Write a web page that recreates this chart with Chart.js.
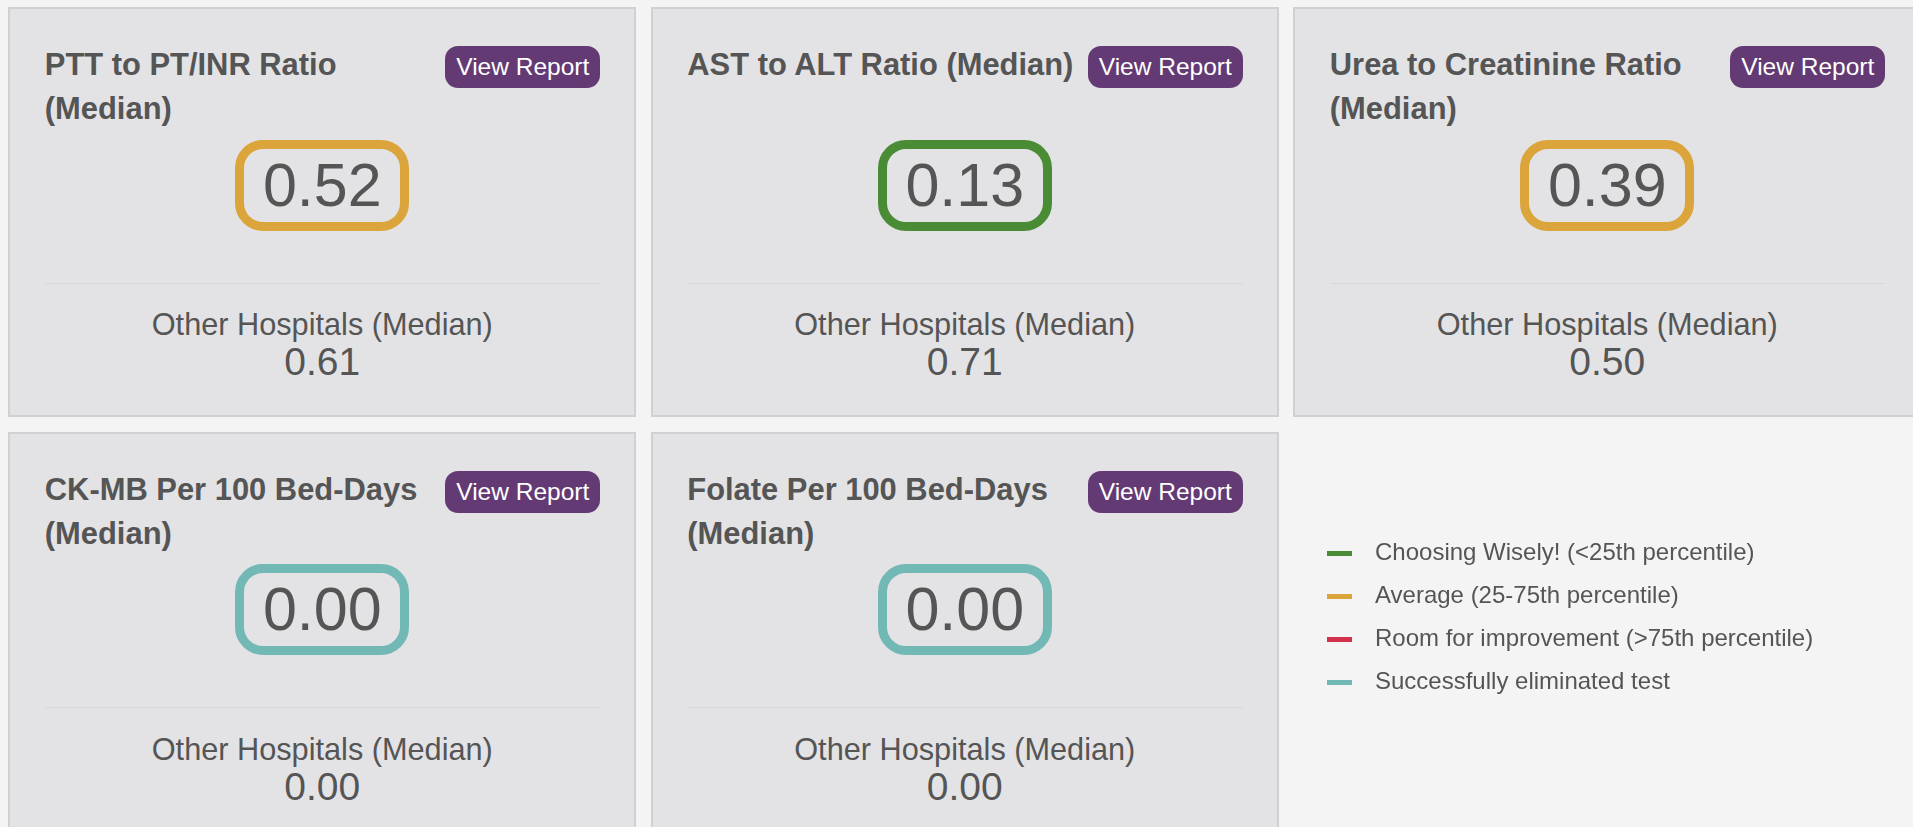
<!DOCTYPE html>
<html>
<head>
<meta charset="utf-8">
<title>Test utilization medians</title>
<script src="https://cdn.jsdelivr.net/npm/chart.js@4.4.0/dist/chart.umd.min.js"></script>
<style>
  html, body { margin: 0; padding: 0; }
  body {
    width: 1913px; height: 827px; overflow: hidden; position: relative;
    background: #f4f4f4; color: #555;
    font-family: "Liberation Sans", Helvetica, Arial, sans-serif;
  }
  .card {
    position: absolute; width: 628px; height: 410px; box-sizing: border-box;
    background: #e3e3e5; border: 2px solid #d1d1d3;
  }
  .card h3 {
    position: absolute; left: 34.5px; top: 34px; width: 398px; margin: 0;
    font-size: 30.9px; line-height: 44px; font-weight: bold;
  }
  .btn {
    position: absolute; right: 34px; top: 37px; width: 155px; height: 42px;
    border-radius: 13px; background: #633a74; color: #fff;
    font-size: 24.5px; line-height: 42px; text-align: center;
  }
  .score {
    position: absolute; left: 50%; top: 130.5px; width: 174px; height: 91px;
    margin-left: -87px; box-sizing: border-box; border: 9px solid; border-radius: 28px;
    display: flex; align-items: center; justify-content: center;
    font-size: 61px; line-height: 1;
  }
  .rule { position: absolute; left: 34.5px; right: 34px; top: 273.5px; height: 1px; background: #d7d7d9; }
  .other-label { position: absolute; left: 0; right: 0; top: 296px; line-height: 40px; font-size: 30.7px; text-align: center; }
  .other-value { position: absolute; left: 0; right: 0; top: 328px; line-height: 50px; font-size: 39px; text-align: center; }
  #legendChart { position: absolute; left: 1308px; top: 522px; }
</style>
</head>
<body>
<canvas id="legendChart" width="1200" height="260"></canvas>
<script>
// test titles
const titles = [
  "PTT to PT/INR Ratio (Median)",
  "AST to ALT Ratio (Median)",
  "Urea to Creatinine Ratio (Median)",
  "CK-MB Per 100 Bed-Days (Median)",
  "Folate Per 100 Bed-Days (Median)",
];
// this hospital vs the others
const hospitalMedians = [0.52, 0.13, 0.39, 0.0, 0.0];
const otherMedians = [0.61, 0.71, 0.5, 0.0, 0.0];
// index into legendLabels
const ratings = [1, 0, 1, 3, 3];

const legendLabels = [
  "Choosing Wisely! (<25th percentile)",
  "Average (25-75th percentile)",
  "Room for improvement (>75th percentile)",
  "Successfully eliminated test",
];
const legendColors = ["#4a8b35", "#dba53b", "#d2304c", "#72b8b4"];

const FONT = '"Liberation Sans", Helvetica, Arial, sans-serif';

// cards
titles.forEach((t, i) => {
  const col = i % 3, row = Math.floor(i / 3);
  const card = document.createElement("div");
  card.className = "card";
  card.style.left = 8.3 + col * 642.5 + "px";
  card.style.top = 7.3 + row * 424.4 + "px";
  card.innerHTML =
    '<h3></h3><div class="btn">View Report</div>' +
    '<div class="score"></div><div class="rule"></div>' +
    '<div class="other-label">Other Hospitals (Median)</div><div class="other-value"></div>';
  card.querySelector("h3").textContent = t;
  const score = card.querySelector(".score");
  score.textContent = hospitalMedians[i].toFixed(2);
  score.style.borderColor = legendColors[ratings[i]];
  card.querySelector(".other-value").textContent = otherMedians[i].toFixed(2);
  document.body.appendChild(card);
});

// little dash used as the legend marker
function marker(color) {
  const c = document.createElement("canvas");
  c.width = 36;
  c.height = 5;
  const g = c.getContext("2d");
  g.fillStyle = color;
  g.fillRect(0, 0, 25, 5);
  return c;
}

new Chart(document.getElementById("legendChart"), {
  type: "bar",
  data: {
    labels: [],
    datasets: legendLabels.map((label, i) => ({
      label,
      data: [],
      backgroundColor: legendColors[i],
    })),
  },
  options: {
    responsive: false,
    animation: false,
    devicePixelRatio: 1,
    events: [],
    layout: { padding: 0 },
    scales: { x: { display: false }, y: { display: false } },
    plugins: {
      tooltip: { enabled: false },
      legend: {
        position: "left",
        align: "start",
        labels: {
          usePointStyle: true,
          pointStyleWidth: 36,
          padding: 19,
          color: "#555",
          font: { family: FONT, size: 24 },
          generateLabels: (chart) =>
            chart.data.datasets.map((ds, i) => ({
              text: ds.label,
              fillStyle: legendColors[i],
              strokeStyle: legendColors[i],
              fontColor: "#555",
              lineWidth: 0,
              pointStyle: marker(legendColors[i]),
              hidden: false,
              datasetIndex: i,
            })),
        },
      },
    },
  },
});
</script>
</body>
</html>
